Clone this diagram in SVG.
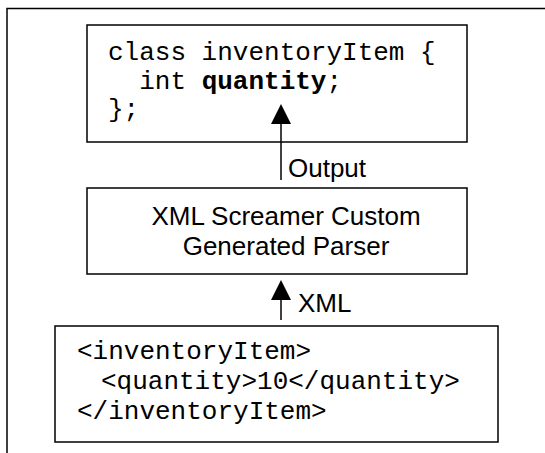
<svg xmlns="http://www.w3.org/2000/svg" width="545" height="453" viewBox="0 0 545 453">
<style>
.box{fill:#fff;stroke:#000;stroke-width:1.5}
.code{font-family:"Liberation Mono","Courier New",monospace;font-size:26px;fill:#000}
.sans{font-family:"Liberation Sans",Arial,sans-serif;font-size:26px;fill:#000}
.conn{stroke:#000;stroke-width:1.5;fill:none}
.head{fill:#000}
</style>
<rect width="545" height="453" fill="#fff"/>
<rect id="frame" x="7" y="8.5" width="600" height="500" fill="none" stroke="#000" stroke-width="1.5"/>
<g id="class-node">
<rect class="box" x="87" y="25" width="380" height="117"/>
<text class="code" x="108" y="60" xml:space="preserve">class inventoryItem {</text>
<text class="code" x="108" y="89" xml:space="preserve">  int <tspan font-weight="bold">quantity</tspan>;</text>
<text class="code" x="108" y="117" xml:space="preserve">};</text>
</g>
<g id="parser-node">
<rect class="box" x="87" y="188" width="380" height="86"/>
<text class="sans" x="286" y="225" text-anchor="middle">XML Screamer Custom</text>
<text class="sans" x="286" y="255" text-anchor="middle">Generated Parser</text>
</g>
<g id="xml-node">
<rect class="box" x="55" y="326" width="443" height="116"/>
<text class="code" x="77" y="359" xml:space="preserve">&lt;inventoryItem&gt;</text>
<text class="code" x="101" y="389">&lt;quantity&gt;10&lt;/quantity&gt;</text>
<text class="code" x="77" y="419" xml:space="preserve">&lt;/inventoryItem&gt;</text>
</g>
<g id="connectors">
<line class="conn" x1="281" y1="180" x2="281" y2="122"/>
<polygon class="head" points="281,104 271,124 291,124"/>
<text class="sans" x="288" y="177">Output</text>
<line class="conn" x1="281" y1="320" x2="281" y2="298"/>
<polygon class="head" points="281,280 271,300 291,300"/>
<text class="sans" x="298" y="312">XML</text>
</g>
</svg>
